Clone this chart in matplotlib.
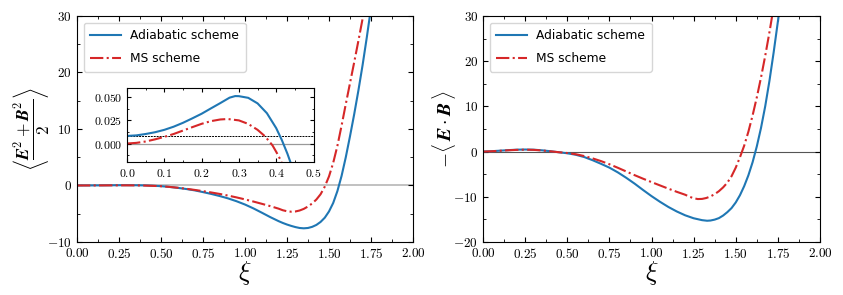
import numpy as np
import matplotlib
matplotlib.use("Agg")
import matplotlib.pyplot as plt
from matplotlib.ticker import FuncFormatter, MultipleLocator

plt.rcParams['mathtext.fontset'] = 'cm'
plt.rcParams['font.family'] = ['DejaVu Sans']

# ---------------- data ----------------
# Left panel: <(E^2+B^2)/2>
xi_left_adi = [0.00, 0.05, 0.10, 0.15, 0.20, 0.25, 0.30, 0.35, 0.40, 0.45, 0.50, 0.55,
               0.60, 0.65, 0.70, 0.75, 0.80, 0.85, 0.90, 0.95, 1.00, 1.05, 1.10, 1.15,
               1.20, 1.225, 1.25, 1.275, 1.30, 1.325, 1.35, 1.375, 1.40, 1.425, 1.45,
               1.475, 1.50, 1.525, 1.55, 1.575, 1.60, 1.625, 1.65, 1.675, 1.70, 1.725,
               1.75, 1.775]
rho_left_adi = [0.008, 0.010, 0.015, 0.025, 0.038, 0.049, 0.052, 0.044, 0.016, -0.04,
                -0.12, -0.25, -0.42, -0.62, -0.86, -1.17, -1.50, -1.87, -2.29, -2.79,
                -3.37, -4.05, -4.81, -5.59, -6.31, -6.63, -6.91, -7.15, -7.36, -7.52,
                -7.58, -7.52, -7.32, -6.98, -6.45, -5.70, -4.60, -3.10, -1.00, 1.70,
                5.00, 8.70, 12.60, 16.80, 21.30, 26.20, 31.40, 37.0]

xi_left_ms = [0.00, 0.05, 0.10, 0.15, 0.20, 0.25, 0.30, 0.35, 0.40, 0.45, 0.50, 0.55,
              0.60, 0.65, 0.70, 0.75, 0.80, 0.85, 0.90, 0.95, 1.00, 1.05, 1.10, 1.15,
              1.20, 1.225, 1.25, 1.275, 1.30, 1.325, 1.35, 1.375, 1.40, 1.425, 1.45,
              1.475, 1.50, 1.525, 1.55, 1.575, 1.60, 1.625, 1.65, 1.675, 1.70, 1.725]
rho_left_ms = [0.000, 0.002, 0.007, 0.014, 0.022, 0.026, 0.025, 0.015, -0.010, -0.06,
               -0.13, -0.25, -0.40, -0.58, -0.78, -1.00, -1.24, -1.50, -1.79, -2.11,
               -2.46, -2.84, -3.24, -3.65, -4.10, -4.38, -4.56, -4.64, -4.60, -4.43,
               -4.14, -3.72, -3.18, -2.48, -1.55, -0.20, 1.60, 4.00, 7.00, 10.60,
               14.40, 18.10, 21.80, 25.60, 29.50, 33.50]

# Right panel: -<E.B>
xi_right_adi = [0.00, 0.05, 0.10, 0.15, 0.20, 0.25, 0.30, 0.35, 0.40, 0.45, 0.50, 0.55,
                0.60, 0.65, 0.70, 0.75, 0.80, 0.85, 0.90, 0.95, 1.00, 1.05, 1.10, 1.15,
                1.20, 1.25, 1.30, 1.33, 1.35, 1.375, 1.40, 1.425, 1.45, 1.475, 1.50,
                1.525, 1.55, 1.575, 1.60, 1.625, 1.65, 1.675, 1.70, 1.725, 1.75, 1.775]
eb_right_adi = [0.00, 0.08, 0.20, 0.32, 0.42, 0.46, 0.42, 0.28, 0.08, -0.15, -0.37,
                -0.70, -1.20, -1.90, -2.70, -3.55, -4.60, -5.80, -7.10, -8.50, -9.85,
                -11.10, -12.25, -13.25, -14.10, -14.75, -15.17, -15.30, -15.25, -15.05,
                -14.72, -14.15, -13.40, -12.50, -11.25, -9.65, -7.65, -5.25, -2.35,
                1.15, 5.25, 10.05, 15.65, 21.95, 28.75, 35.75]

xi_right_ms = [0.00, 0.05, 0.10, 0.15, 0.20, 0.25, 0.30, 0.35, 0.40, 0.45, 0.50, 0.55,
               0.60, 0.65, 0.70, 0.75, 0.80, 0.85, 0.90, 0.95, 1.00, 1.05, 1.10, 1.15,
               1.20, 1.225, 1.25, 1.275, 1.30, 1.325, 1.35, 1.375, 1.40, 1.425, 1.45,
               1.475, 1.50, 1.525, 1.55, 1.575, 1.60, 1.625, 1.65, 1.675, 1.70, 1.725]
eb_right_ms = [0.00, 0.07, 0.18, 0.29, 0.38, 0.42, 0.38, 0.25, 0.06, -0.14, -0.32,
               -0.58, -0.98, -1.50, -2.10, -2.80, -3.58, -4.40, -5.22, -6.00, -6.75,
               -7.48, -8.20, -8.90, -9.55, -9.98, -10.33, -10.50, -10.47, -10.27,
               -9.92, -9.42, -8.76, -7.92, -6.88, -5.45, -3.55, -1.25, 1.30, 4.40,
               8.00, 12.00, 16.40, 21.20, 26.40, 32.00]

# Inset (zoom on left panel, small xi)
xi_inset_adi = [0.00, 0.025, 0.05, 0.075, 0.10, 0.125, 0.15, 0.175, 0.20, 0.225, 0.25,
                0.275, 0.29, 0.30, 0.325, 0.35, 0.375, 0.40, 0.415, 0.43, 0.445]
rho_inset_adi = [0.0082, 0.0088, 0.0103, 0.0122, 0.0148, 0.0182, 0.0224, 0.0272, 0.0322,
                 0.0380, 0.0437, 0.0496, 0.0513, 0.0512, 0.0494, 0.0434, 0.0328, 0.0166,
                 0.0038, -0.0110, -0.0280]
xi_inset_ms = [0.00, 0.025, 0.05, 0.075, 0.10, 0.125, 0.15, 0.175, 0.20, 0.225, 0.25,
               0.27, 0.30, 0.325, 0.35, 0.37, 0.39, 0.40, 0.41, 0.42]
rho_inset_ms = [0.0000, 0.0007, 0.0022, 0.0045, 0.0072, 0.0103, 0.0140, 0.0177, 0.0213,
                0.0242, 0.0260, 0.0265, 0.0250, 0.0212, 0.0148, 0.0078, -0.0020, -0.0090,
                -0.0165, -0.0260]
inset_ref_level = 0.0082

labels = ["Adiabatic scheme", "MS scheme"]
xticks_main = [0.00, 0.25, 0.50, 0.75, 1.00, 1.25, 1.50, 1.75, 2.00]
blue = "#1f77b4"
red = "#d62728"

# ---------------- figure ----------------
fig = plt.figure(figsize=(8.43, 2.95), dpi=100)
ax1 = fig.add_axes([0.0913, 0.1797, 0.3986, 0.7661])
ax2 = fig.add_axes([0.5730, 0.1797, 0.3997, 0.7661])

def fmt2(v, pos):
    return r"$%.2f$" % v

def fmtint(v, pos):
    return r"$%d$" % int(round(v))

def style_main(ax):
    ax.set_xlim(0, 2)
    ax.set_xticks(xticks_main)
    ax.xaxis.set_minor_locator(MultipleLocator(0.125))
    ax.yaxis.set_major_locator(MultipleLocator(10))
    ax.yaxis.set_minor_locator(MultipleLocator(5))
    ax.xaxis.set_major_formatter(FuncFormatter(fmt2))
    ax.yaxis.set_major_formatter(FuncFormatter(fmtint))
    ax.tick_params(which='both', direction='in', top=True, right=True, labelsize=9.5)
    ax.tick_params(which='major', length=3.5)
    ax.tick_params(which='minor', length=2)
    ax.set_xlabel(r"$\xi$", fontsize=19, labelpad=-1)

def add_legend(ax):
    ax.legend(loc="upper left", fontsize=8.8, handlelength=2.5, handletextpad=0.75,
              borderpad=0.55, labelspacing=0.8, borderaxespad=0.55)

# Left
ax1.axhline(0, color="#b0b0b0", lw=1.1, zorder=1)
ax1.plot(xi_left_adi, rho_left_adi, color=blue, lw=1.5, label=labels[0])
ax1.plot(xi_left_ms, rho_left_ms, color=red, lw=1.5, ls="-.", label=labels[1])
ax1.set_ylim(-10, 30)
style_main(ax1)
ax1.set_ylabel(r"$\left\langle\dfrac{\boldsymbol{E}^2+\boldsymbol{B}^2}{2}\right\rangle$",
               fontsize=12.5)
ax1.yaxis.set_label_coords(-0.078, 0.5)
add_legend(ax1)

# Right
ax2.axhline(0, color="#555555", lw=0.8, zorder=1)
ax2.plot(xi_right_adi, eb_right_adi, color=blue, lw=1.5, label=labels[0])
ax2.plot(xi_right_ms, eb_right_ms, color=red, lw=1.5, ls="-.", label=labels[1])
ax2.set_ylim(-20, 30)
style_main(ax2)
ax2.set_ylabel(r"$-\langle\,\boldsymbol{E}\cdot\boldsymbol{B}\,\rangle$", fontsize=14)
ax2.yaxis.set_label_coords(-0.075, 0.5)
add_legend(ax2)

# Inset
axi = fig.add_axes([0.1507, 0.4508, 0.2212, 0.2508])
axi.axhline(0, color="#999999", lw=0.9, zorder=1)
axi.axhline(inset_ref_level, color="black", lw=0.7, ls="--", dashes=(2, 1), zorder=1)
axi.plot(xi_inset_adi, rho_inset_adi, color=blue, lw=1.5)
axi.plot(xi_inset_ms, rho_inset_ms, color=red, lw=1.5, ls="-.")
axi.set_xlim(0, 0.5)
axi.set_ylim(-0.02, 0.06)
axi.xaxis.set_major_locator(MultipleLocator(0.1))
axi.xaxis.set_minor_locator(MultipleLocator(0.05))
axi.set_yticks([0.0, 0.025, 0.05])
axi.yaxis.set_minor_locator(MultipleLocator(0.0125))
axi.xaxis.set_major_formatter(FuncFormatter(lambda v, p: r"$%.1f$" % v))
axi.yaxis.set_major_formatter(FuncFormatter(lambda v, p: r"$%.3f$" % v))
axi.tick_params(which='both', direction='in', top=True, right=True, labelsize=8.5)
axi.tick_params(which='major', length=3)
axi.tick_params(which='minor', length=1.5)

fig.savefig("out.png", dpi=100)
